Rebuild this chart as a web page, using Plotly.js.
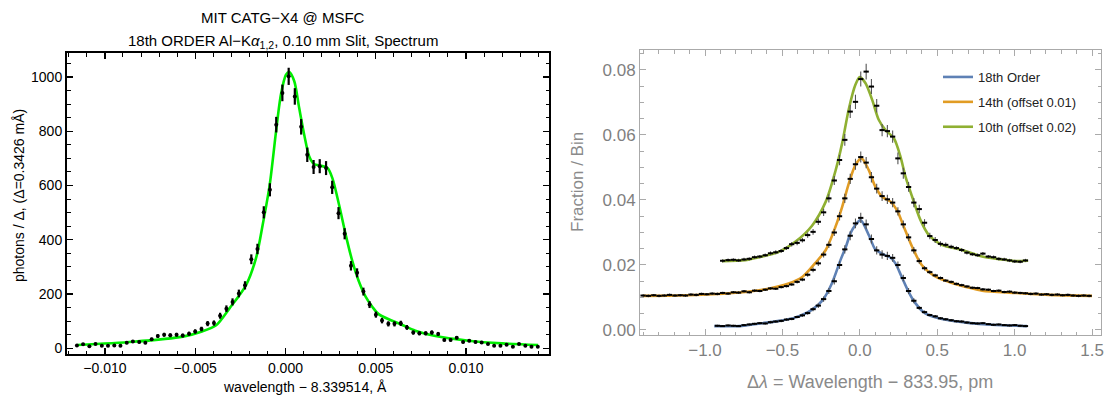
<!DOCTYPE html>
<html>
<head>
<meta charset="utf-8">
<script src="https://cdn.plot.ly/plotly-3.0.1.min.js"></script>
<style>html,body{margin:0;padding:0;background:#fff;}#chart{width:1107px;height:397px;}</style>
</head>
<body>
<div id="chart"></div>
<script>
// ---------- Left panel: 18th order spectrum (Å) ----------
const leftX = [-0.01155,-0.01121,-0.01086,-0.01052,-0.01017,-0.00983,-0.00948,-0.00914,-0.00879,-0.00845,
  -0.00810,-0.00776,-0.00741,-0.00707,-0.00672,-0.00638,-0.00603,-0.00569,-0.00534,-0.00500,
  -0.00465,-0.00431,-0.00396,-0.00362,-0.00327,-0.00293,-0.00258,-0.00224,-0.00189,-0.00155,
  -0.00120,-0.00086,-0.00051,-0.00017,0.00018,0.00052,0.00087,0.00121,0.00156,0.00190,
  0.00225,0.00259,0.00294,0.00328,0.00363,0.00397,0.00432,0.00466,0.00501,0.00535,
  0.00570,0.00604,0.00639,0.00673,0.00708,0.00742,0.00777,0.00811,0.00846,0.00880,
  0.00915,0.00949,0.00984,0.01018,0.01053,0.01087,0.01122,0.01156,0.01191,0.01225,
  0.01260,0.01294,0.01329,0.01363,0.01398];
const leftY = [10,15,8,16,9,9,10,9,20,25,
  23,20,33,45,50,48,50,47,54,62,
  71,91,93,120,146,171,202,232,328,366,
  501,584,824,941,1002,928,816,713,668,671,
  664,593,498,422,304,278,209,161,124,102,
  90,90,92,77,58,55,55,58,53,31,
  31,39,23,28,23,21,16,9,9,13,
  6,16,9,6,6];
const leftFitX = [-0.01153,-0.00844,-0.00568,-0.00462,-0.00384,-0.00310,-0.00218,-0.00163,-0.00126,-0.00087,
  -0.00052,-0.00025,0.00003,0.00021,0.00049,0.00076,0.00104,0.00132,0.00159,0.00187,
  0.00233,0.00260,0.00297,0.00334,0.00371,0.00407,0.00444,0.00481,0.00518,0.00647,
  0.00720,0.00831,0.01015,0.01199,0.01400];
const leftFitY = [12,24,43,62,85,147,233,332,455,603,
  799,935,1008,1018,984,886,787,707,679,674,
  664,627,529,418,320,246,190,153,125,86,
  65,45,28,18,12];

// ---------- Right panel: fraction per bin (pm) ----------
const seriesNames = ["18th Order","14th (offset 0.01)","10th (offset 0.02)"];

const blueX = [-0.920,-0.886,-0.851,-0.817,-0.783,-0.748,-0.714,-0.680,-0.646,-0.611,
  -0.577,-0.543,-0.508,-0.474,-0.440,-0.405,-0.371,-0.337,-0.302,-0.268,
  -0.234,-0.200,-0.165,-0.131,-0.097,-0.062,-0.028,0.006,0.041,0.075,
  0.109,0.144,0.178,0.212,0.246,0.281,0.315,0.349,0.384,0.418,
  0.452,0.487,0.521,0.555,0.590,0.624,0.658,0.692,0.727,0.761,
  0.795,0.830,0.864,0.898,0.933,0.967,1.001,1.036,1.070];
const blueY = [0.0013,0.0012,0.0014,0.0013,0.0012,0.0015,0.0017,0.0019,0.0021,0.0020,
  0.0024,0.0026,0.0028,0.0032,0.0034,0.0040,0.0045,0.0052,0.0064,0.0075,
  0.0095,0.0120,0.0150,0.0200,0.0248,0.0290,0.0328,0.0345,0.0325,0.0280,
  0.0245,0.0232,0.0228,0.0222,0.0200,0.0160,0.0120,0.0090,0.0068,0.0055,
  0.0046,0.0042,0.0036,0.0033,0.0030,0.0027,0.0026,0.0023,0.0021,0.0020,
  0.0021,0.0018,0.0016,0.0017,0.0015,0.0014,0.0015,0.0013,0.0012];
const blueErr = [0.0003,0.0003,0.0003,0.0003,0.0003,0.0003,0.0003,0.0003,0.0003,0.0003,
  0.0004,0.0004,0.0004,0.0004,0.0004,0.0004,0.0005,0.0005,0.0006,0.0007,
  0.0008,0.0009,0.0010,0.0012,0.0013,0.0014,0.0015,0.0016,0.0015,0.0014,
  0.0013,0.0013,0.0013,0.0012,0.0011,0.0010,0.0009,0.0008,0.0006,0.0005,
  0.0004,0.0004,0.0004,0.0004,0.0004,0.0004,0.0004,0.0004,0.0003,0.0003,
  0.0003,0.0003,0.0003,0.0003,0.0003,0.0003,0.0003,0.0003,0.0003];
const blueFitX = [-0.94,-0.78,-0.63,-0.52,-0.42,-0.31,-0.24,-0.18,-0.125,-0.09,
  -0.06,-0.03,0.005,0.06,0.10,0.155,0.20,0.23,0.27,0.32,
  0.36,0.42,0.53,0.70,0.85,1.08];
const blueFitY = [0.0012,0.0012,0.0021,0.0028,0.0038,0.0062,0.0092,0.0144,0.0215,0.0256,
  0.0298,0.0322,0.0338,0.0290,0.0248,0.0232,0.0222,0.0205,0.0164,0.0113,
  0.0082,0.0052,0.0034,0.0022,0.0016,0.0012];

const orangeX = [-1.400,-1.366,-1.331,-1.297,-1.263,-1.229,-1.194,-1.160,-1.126,-1.091,
  -1.057,-1.023,-0.988,-0.954,-0.920,-0.886,-0.851,-0.817,-0.783,-0.748,
  -0.714,-0.680,-0.646,-0.611,-0.577,-0.543,-0.508,-0.474,-0.440,-0.405,
  -0.371,-0.337,-0.302,-0.268,-0.234,-0.200,-0.165,-0.131,-0.097,-0.062,
  -0.028,0.006,0.041,0.075,0.109,0.144,0.178,0.212,0.246,0.281,
  0.315,0.349,0.384,0.418,0.452,0.487,0.521,0.555,0.590,0.624,
  0.658,0.692,0.727,0.761,0.795,0.830,0.864,0.898,0.933,0.967,
  1.001,1.036,1.070,1.104,1.138,1.173,1.207,1.241,1.276,1.310,
  1.344,1.378,1.413,1.447,1.481];
const orangeY = [0.0106,0.0105,0.0107,0.0105,0.0106,0.0108,0.0106,0.0107,0.0106,0.0109,
  0.0108,0.0111,0.0110,0.0112,0.0111,0.0114,0.0112,0.0116,0.0115,0.0119,
  0.0116,0.0121,0.0120,0.0124,0.0128,0.0127,0.0132,0.0135,0.0140,0.0148,
  0.0155,0.0170,0.0185,0.0205,0.0232,0.0262,0.0300,0.0350,0.0405,0.0465,
  0.0510,0.0532,0.0515,0.0470,0.0435,0.0412,0.0402,0.0392,0.0365,0.0325,
  0.0285,0.0245,0.0212,0.0190,0.0178,0.0168,0.0160,0.0152,0.0148,0.0142,
  0.0138,0.0134,0.0130,0.0129,0.0125,0.0124,0.0120,0.0121,0.0117,0.0118,
  0.0115,0.0114,0.0113,0.0111,0.0112,0.0109,0.0110,0.0108,0.0109,0.0107,
  0.0108,0.0106,0.0105,0.0106,0.0105];
const orangeErr = [0.0004,0.0004,0.0004,0.0004,0.0004,0.0004,0.0004,0.0004,0.0004,0.0004,
  0.0004,0.0004,0.0004,0.0004,0.0004,0.0004,0.0004,0.0004,0.0004,0.0004,
  0.0004,0.0004,0.0004,0.0004,0.0004,0.0004,0.0004,0.0004,0.0004,0.0005,
  0.0005,0.0006,0.0007,0.0008,0.0009,0.0010,0.0011,0.0013,0.0014,0.0016,
  0.0017,0.0017,0.0017,0.0016,0.0015,0.0015,0.0014,0.0014,0.0013,0.0012,
  0.0011,0.0010,0.0008,0.0007,0.0006,0.0005,0.0005,0.0004,0.0004,0.0004,
  0.0004,0.0004,0.0004,0.0004,0.0004,0.0004,0.0004,0.0004,0.0004,0.0004,
  0.0004,0.0004,0.0004,0.0004,0.0004,0.0004,0.0004,0.0004,0.0004,0.0004,
  0.0004,0.0004,0.0004,0.0004,0.0004];
const orangeFitX = [-1.40,-1.17,-0.95,-0.74,-0.59,-0.46,-0.37,-0.29,-0.22,-0.157,
  -0.114,-0.071,-0.028,0.011,0.058,0.10,0.144,0.198,0.24,0.284,
  0.338,0.40,0.49,0.60,0.70,0.79,1.0,1.22,1.50];
const orangeFitY = [0.0105,0.0106,0.0110,0.0117,0.0127,0.0143,0.0164,0.0205,0.0246,0.0318,
  0.0379,0.0451,0.0508,0.0528,0.0492,0.0441,0.0410,0.0395,0.0369,0.0318,
  0.0256,0.0200,0.0164,0.0144,0.0131,0.0121,0.0114,0.0108,0.0105];

const greenX = [-0.886,-0.851,-0.817,-0.783,-0.748,-0.714,-0.680,-0.646,-0.611,-0.577,
  -0.543,-0.508,-0.474,-0.440,-0.405,-0.371,-0.337,-0.302,-0.268,-0.234,
  -0.200,-0.165,-0.131,-0.097,-0.062,-0.028,0.006,0.041,0.075,0.109,
  0.144,0.178,0.212,0.246,0.281,0.315,0.349,0.384,0.418,0.452,
  0.487,0.521,0.555,0.590,0.624,0.658,0.692,0.727,0.761,0.795,
  0.830,0.864,0.898,0.933,0.967,1.001,1.036,1.070];
const greenY = [0.0213,0.0215,0.0216,0.0214,0.0217,0.0219,0.0224,0.0226,0.0230,0.0236,
  0.0239,0.0243,0.0252,0.0264,0.0268,0.0276,0.0292,0.0302,0.0333,0.0362,
  0.0405,0.0460,0.0523,0.0585,0.0672,0.0702,0.0772,0.0795,0.0749,0.0690,
  0.0615,0.0612,0.0595,0.0528,0.0482,0.0440,0.0392,0.0372,0.0330,0.0289,
  0.0277,0.0265,0.0262,0.0256,0.0252,0.0246,0.0238,0.0233,0.0230,0.0235,
  0.0226,0.0224,0.0219,0.0217,0.0214,0.0211,0.0210,0.0214];
const greenErr = [0.0005,0.0005,0.0005,0.0005,0.0005,0.0005,0.0005,0.0005,0.0005,0.0006,
  0.0006,0.0006,0.0006,0.0007,0.0007,0.0007,0.0008,0.0009,0.0010,0.0011,
  0.0013,0.0014,0.0016,0.0018,0.0020,0.0022,0.0023,0.0024,0.0023,0.0021,
  0.0019,0.0019,0.0019,0.0018,0.0017,0.0015,0.0014,0.0013,0.0011,0.0010,
  0.0009,0.0008,0.0007,0.0006,0.0006,0.0006,0.0006,0.0005,0.0005,0.0005,
  0.0005,0.0005,0.0005,0.0005,0.0005,0.0005,0.0005,0.0005];
const greenFitX = [-0.89,-0.74,-0.63,-0.52,-0.415,-0.31,-0.22,-0.157,-0.114,-0.071,
  -0.028,0.0,0.037,0.08,0.123,0.166,0.22,0.263,0.295,0.338,
  0.392,0.446,0.53,0.66,0.79,0.90,1.0,1.087];
const greenFitY = [0.0212,0.0215,0.0226,0.0241,0.0272,0.0320,0.0395,0.0490,0.0575,0.0680,
  0.0755,0.0778,0.0759,0.0708,0.0646,0.0615,0.0590,0.0533,0.0472,0.0410,
  0.0338,0.0292,0.0262,0.0246,0.0226,0.0218,0.0212,0.0213];

const binHalf = 0.017;

// ---------- geometry helpers (pixels -> paper) ----------
const W = 1107, H = 397;
const px = v => v / W;
const py = v => 1 - v / H;
const FONT = "Liberation Sans, Arial, sans-serif";

const fitLine = (x, y, color, name, group) => ({
  x: x, y: y, xaxis: 'x2', yaxis: 'y2', type: 'scatter', mode: 'lines',
  line: {color: color, width: 2.6, shape: 'spline', smoothing: 0.8},
  name: name, legendgroup: group, showlegend: true, hoverinfo: 'skip'
});
const crosses = (x, y, err) => ({
  x: x, y: y, xaxis: 'x2', yaxis: 'y2', type: 'scatter', mode: 'markers',
  marker: {size: 1.5, color: '#000'},
  error_x: {type: 'constant', value: binHalf, color: '#000', thickness: 2, width: 0},
  error_y: {type: 'data', array: err, color: '#555', thickness: 1.1, width: 0},
  showlegend: false, hoverinfo: 'skip'
});

const traces = [
  {x: leftFitX, y: leftFitY, type: 'scatter', mode: 'lines',
   line: {color: '#00ee00', width: 2.6, shape: 'spline', smoothing: 0.8},
   showlegend: false, hoverinfo: 'skip'},
  {x: leftX, y: leftY, type: 'scatter', mode: 'markers',
   marker: {size: 4, color: '#000'},
   error_y: {type: 'sqrt', color: '#000', thickness: 2.2, width: 0},
   showlegend: false, hoverinfo: 'skip'},
  fitLine(blueFitX, blueFitY, '#5e81b5', seriesNames[0], 'a'),
  fitLine(orangeFitX, orangeFitY, '#e19c24', seriesNames[1], 'b'),
  fitLine(greenFitX, greenFitY, '#8fb032', seriesNames[2], 'c'),
  crosses(blueX, blueY, blueErr),
  crosses(orangeX, orangeY, orangeErr),
  crosses(greenX, greenY, greenErr)
];

const leftAxisCommon = {
  showline: true, linecolor: '#000', linewidth: 2, mirror: 'allticks',
  ticks: 'inside', ticklen: 6, tickwidth: 1.3, tickcolor: '#000',
  showgrid: false, zeroline: false, automargin: false,
  tickfont: {family: FONT, size: 14, color: '#000'}
};
const rightAxisCommon = {
  showline: true, linecolor: '#aaaaaa', linewidth: 1, mirror: 'allticks',
  ticks: 'inside', ticklen: 6, tickwidth: 1, tickcolor: '#aaaaaa',
  showgrid: false, zeroline: false, automargin: false,
  tickfont: {family: FONT, size: 17, color: '#7f7f7f'}
};

const layout = {
  width: W, height: H,
  margin: {l: 0, r: 0, t: 0, b: 0},
  paper_bgcolor: '#fff', plot_bgcolor: '#fff',
  font: {family: FONT},
  showlegend: true,
  xaxis: Object.assign({}, leftAxisCommon, {
    domain: [px(67), px(549)], range: [-0.0121, 0.0146],
    tickmode: 'linear', tick0: 0, dtick: 0.005, tickformat: '.3f',
    minor: {dtick: 0.001, ticks: 'inside', ticklen: 3.5, tickcolor: '#000', tickwidth: 1}
  }),
  yaxis: Object.assign({}, leftAxisCommon, {
    domain: [py(354), py(53)], range: [-21, 1088],
    tickmode: 'linear', tick0: 0, dtick: 200, tickformat: 'd',
    minor: {dtick: 50, ticks: 'inside', ticklen: 3.5, tickcolor: '#000', tickwidth: 1}
  }),
  xaxis2: Object.assign({}, rightAxisCommon, {
    anchor: 'y2', domain: [px(640), px(1101)], range: [-1.42, 1.558],
    tickmode: 'linear', tick0: 0, dtick: 0.5, tickformat: '.1f',
    minor: {dtick: 0.1, ticks: 'inside', ticklen: 3.5, tickcolor: '#aaaaaa', tickwidth: 1}
  }),
  yaxis2: Object.assign({}, rightAxisCommon, {
    anchor: 'x2', domain: [py(335), py(50)], range: [-0.00154, 0.08615],
    tickmode: 'linear', tick0: 0, dtick: 0.02, tickformat: '.2f',
    minor: {dtick: 0.005, ticks: 'inside', ticklen: 3.5, tickcolor: '#aaaaaa', tickwidth: 1}
  }),
  legend: {
    x: px(938), y: py(62), xanchor: 'left', yanchor: 'top',
    bgcolor: 'rgba(0,0,0,0)', borderwidth: 0,
    font: {family: FONT, size: 13, color: '#222'},
    tracegroupgap: 5, traceorder: 'grouped'
  },
  annotations: [
    {text: 'MIT CATG\u2212X4 @ MSFC', x: px(283), y: py(18), xref: 'paper', yref: 'paper',
     showarrow: false, xanchor: 'center', yanchor: 'middle', font: {family: FONT, size: 15, color: '#000'}},
    {text: '18th ORDER Al\u2212K<i>\u03b1</i><sub>1,2</sub>, 0.10 mm Slit, Spectrum', x: px(283), y: py(41), xref: 'paper', yref: 'paper',
     showarrow: false, xanchor: 'center', yanchor: 'middle', font: {family: FONT, size: 15, color: '#000'}},
    {text: 'photons / \u0394, (\u0394=0.3426 m\u00c5)', x: px(19), y: py(196), xref: 'paper', yref: 'paper',
     textangle: -90, showarrow: false, xanchor: 'center', yanchor: 'middle', font: {family: FONT, size: 14, color: '#000'}},
    {text: 'wavelength \u2212 8.339514, \u00c5', x: px(305), y: py(387), xref: 'paper', yref: 'paper',
     showarrow: false, xanchor: 'center', yanchor: 'middle', font: {family: FONT, size: 14, color: '#000'}},
    {text: 'Fraction / Bin', x: px(578), y: py(182), xref: 'paper', yref: 'paper',
     textangle: -90, showarrow: false, xanchor: 'center', yanchor: 'middle', font: {family: FONT, size: 17, color: '#8a8a8a'}},
    {text: '\u0394<i>\u03bb</i> = Wavelength \u2212 833.95, pm', x: px(870), y: py(382), xref: 'paper', yref: 'paper',
     showarrow: false, xanchor: 'center', yanchor: 'middle', font: {family: FONT, size: 18, color: '#8a8a8a'}}
  ]
};

Plotly.newPlot('chart', traces, layout, {staticPlot: true, displayModeBar: false});
</script>
</body>
</html>
